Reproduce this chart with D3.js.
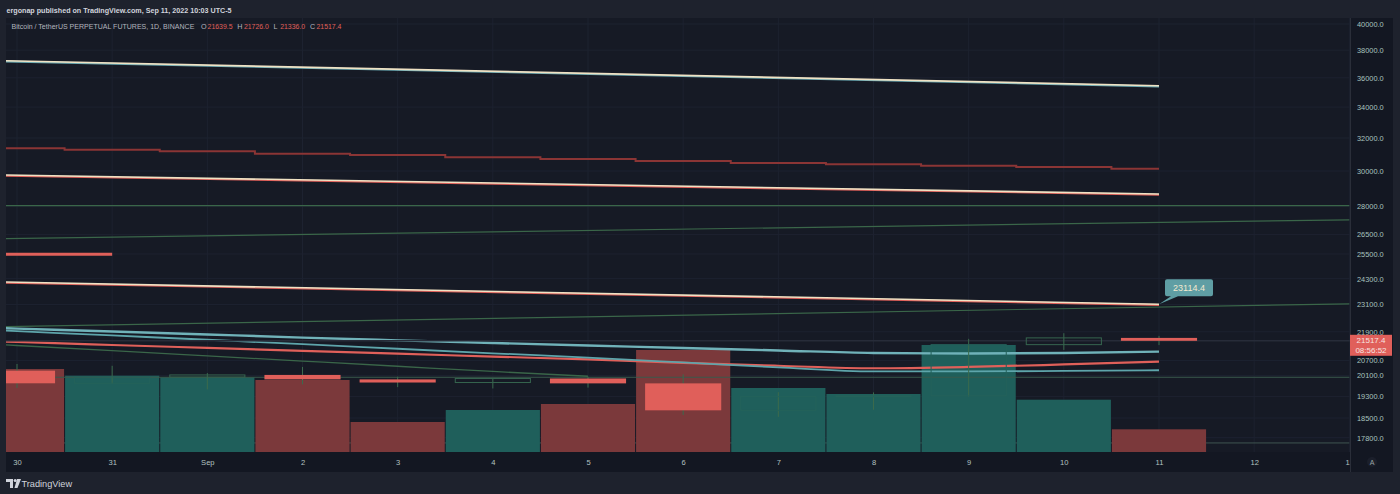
<!DOCTYPE html>
<html><head><meta charset="utf-8">
<script src="https://cdn.jsdelivr.net/npm/d3@7"></script>
<style>body{margin:0;background:#1e222d;overflow:hidden}svg{display:block}text{font-family:"Liberation Sans",Arial,sans-serif}</style>
</head><body><svg id="c" width="1400" height="494"></svg>
<script>
// ---- data ----
const dayLabels = ["30","31","Sep","2","3","4","5","6","7","8","9","10","11","12","13"];
const candleOpen  = [20296, 19800, 20043, 20127, 19952, 19830, 19988, 19797, 18780, 19290, 19320, 21356, 21639.5];
const candleHigh  = [20563, 20490, 20200, 20444, 20056, 20000, 20057, 20150, 19460, 19450, 21600, 21840, 21726.0];
const candleLow   = [19620, 19780, 19565, 19757, 19652, 19600, 19633, 18609, 18540, 18800, 19290, 21136, 21336.0];
const candleClose = [19800, 20045, 20127, 19952, 19830, 19988, 19797, 18780, 19290, 19320, 21356, 21640, 21517.4];
const volumeK     = [830, 763, 747, 720, 300, 420, 480, 1020, 640, 580, 1070, 523, 227];
const priceTicks  = [40000,38000,36000,34000,32000,30000,28000,26500,25500,24300,23100,21900,20700,20100,19300,18500,17800];
// moving averages, values for day index -1 .. 12
const maTealUpper = [22168, 22038, 21914, 21785, 21653, 21535, 21426, 21317, 21217, 21114, 21011, 20990, 21011, 21064];
const maTealLower = [22116, 21927, 21743, 21561, 21376, 21184, 20998, 20822, 20624, 20423, 20264, 20264, 20284, 20311];
const maRed       = [21594, 21468, 21342, 21221, 21101, 20982, 20863, 20745, 20604, 20491, 20391, 20443, 20543, 20656];
// day index -1 .. 6
const maGreen     = [21535, 21321, 21106, 20892, 20680, 20471, 20264, 20074];
// stepped dark red line, day index -1 .. 12
const stepRed     = [31420, 31365, 31277, 31180, 31033, 30953, 30815, 30713, 30593, 30474, 30396, 30314, 30238, 30135];
// straight lines: [startIndex, startValue, endIndex, endValue]
const lineTop        = [-1, 37360, 12, 35451];
const lineMid        = [-1, 29847, 12, 28680];
const lineLow        = [-1, 24217, 12, 23114.4];
const lineGreenUpper = [-1, 26217, 14, 27268];
const lineGreenLower = [-1, 22060, 14, 23130];
const lineGreenFlat  = [-1, 28033, 14, 28033];
const lineRedShort   = [-1, 25487, 1, 25487];
const lineFlat20k    = [-1, 20035, 14, 20035];
const lineFlat17k    = [-1, 17618, 14, 17618];
const lastPrice = 21517.4, lastTime = "08:56:52", calloutValue = 23114.4;
const headerText = "ergonap published on TradingView.com, Sep 11, 2022 10:03 UTC-5";
const legendTitle = "Bitcoin / TetherUS PERPETUAL FUTURES, 1D, BINANCE";
const ohlcKeys = ["O","H","L","C"];
const ohlcVals = ["21639.5","21726.0","21336.0","21517.4"];

// ---- layout ----
const svg = d3.select("#c");
const L = 6, R = 1350, T = 18, B = 452;
const x = d3.scaleLinear().domain([0, 12]).range([17, 1159]);
const y = d3.scaleLog().domain([17800, 40000]).range([437.7, 24]);
const vy = d3.scaleLinear().domain([0, 1070]).range([B, 345]);
const step = x(1) - x(0);

svg.append("rect").attr("width",1400).attr("height",494).attr("fill","#1e222d");
svg.append("rect").attr("x",L).attr("y",T).attr("width",R-L).attr("height",B-T).attr("fill","#161a25");
svg.append("rect").attr("x",L).attr("y",B).attr("width",1393-L).attr("height",20).attr("fill","#131722");
svg.append("rect").attr("x",R).attr("y",T).attr("width",43).attr("height",B-T).attr("fill","#131722");
svg.append("line").attr("x1",R+0.5).attr("x2",R+0.5).attr("y1",T).attr("y2",472).attr("stroke","#2a2e39");

const defs = svg.append("defs");
defs.append("clipPath").attr("id","plot").append("rect").attr("x",L).attr("y",T).attr("width",R-L).attr("height",B-T);
defs.append("clipPath").attr("id","xax").append("rect").attr("x",L).attr("y",B).attr("width",R-L).attr("height",20);

const plot = svg.append("g").attr("clip-path","url(#plot)");

// grid
plot.selectAll(".vg").data(d3.range(15)).join("line")
  .attr("x1",d=>x(d)).attr("x2",d=>x(d)).attr("y1",T).attr("y2",B)
  .attr("stroke","#1d2230").attr("stroke-width",1);
plot.selectAll(".hg").data(priceTicks).join("line")
  .attr("x1",L).attr("x2",R).attr("y1",d=>y(d)).attr("y2",d=>y(d))
  .attr("stroke","#1d2230").attr("stroke-width",1);

function seg(g, s, color, w, dy=0){
  g.append("line").attr("x1",x(s[0])).attr("y1",y(s[1])+dy).attr("x2",x(s[2])).attr("y2",y(s[3])+dy)
   .attr("stroke",color).attr("stroke-width",w);
}
seg(plot, lineFlat17k, "#3f5550", 1);

// volume
const vColor = i => candleClose[i] >= candleOpen[i] ? "#1f5f5b" : "#7b393b";
plot.selectAll(".vol").data(volumeK).join("rect")
  .attr("x",(d,i)=>x(i)-step/2+0.5).attr("width",step-1)
  .attr("y",d=>vy(d)).attr("height",d=>B-vy(d))
  .attr("fill",(d,i)=>vColor(i));

// indicator lines
const lineGen = (arr, start, curve) => d3.line().x((d,i)=>x(i+start)).y(d=>y(d)).curve(curve)(arr);
seg(plot, lineGreenFlat, "#3a6649", 1.3);
seg(plot, lineGreenUpper, "#3a6649", 1.2);
seg(plot, lineGreenLower, "#3a6649", 1.2);
seg(plot, lineFlat20k, "#3a5a4c", 1.2);
seg(plot, lineRedShort, "#e0605a", 3);
plot.append("path").attr("d", lineGen(stepRed,-1,d3.curveStep)).attr("fill","none").attr("stroke","#8b3535").attr("stroke-width",2);
seg(plot, lineTop, "#6aaab3", 1.8, 0.8);
seg(plot, lineTop, "#efe2c4", 1.6);
seg(plot, lineMid, "#e0605a", 1.8, 0.8);
seg(plot, lineMid, "#efe2c4", 1.6);
seg(plot, lineLow, "#e0605a", 1.8, 0.8);
seg(plot, lineLow, "#efe2c4", 1.6);
plot.append("path").attr("d", lineGen(maGreen,-1,d3.curveMonotoneX)).attr("fill","none").attr("stroke","#3a6649").attr("stroke-width",1.3);
plot.append("path").attr("d", lineGen(maRed,-1,d3.curveMonotoneX)).attr("fill","none").attr("stroke","#e0605a").attr("stroke-width",2.2);
plot.append("path").attr("d", lineGen(maTealLower,-1,d3.curveMonotoneX)).attr("fill","none").attr("stroke","#5ea5ab").attr("stroke-width",1.8);
plot.append("path").attr("d", lineGen(maTealUpper,-1,d3.curveMonotoneX)).attr("fill","none").attr("stroke","#70b2b9").attr("stroke-width",2.4);

// last price line
plot.append("line").attr("x1",L).attr("x2",R).attr("y1",y(lastPrice)).attr("y2",y(lastPrice)).attr("stroke","#272c39").attr("stroke-width",1.5);

// candles
const cw = step*0.8;
const cg = plot.append("g");
candleOpen.forEach((o,i)=>{
  const c = candleClose[i], up = c >= o;
  const top = y(Math.max(o,c)), bot = y(Math.min(o,c));
  const overVol = vy(volumeK[i]) < top + 2;
  cg.append("line").attr("x1",x(i)).attr("x2",x(i)).attr("y1",y(candleHigh[i])).attr("y2",y(candleLow[i]))
    .attr("stroke", "#3b6a4c").attr("stroke-width",1);
  if (up) {
    cg.append("rect").attr("x",x(i)-cw/2+0.5).attr("y",top).attr("width",cw-1).attr("height",Math.max(1,bot-top))
      .attr("fill","none").attr("stroke", overVol ? "#24625a" : "#36654f").attr("stroke-width",1);
  } else {
    cg.append("rect").attr("x",x(i)-cw/2).attr("y",top).attr("width",cw).attr("height",Math.max(1.5,bot-top))
      .attr("fill","#e05f5a");
  }
});

// callout
const cx = x(12), cyy = y(calloutValue);
const bx = cx+6, by = cyy-25, bw = 48, bh = 17;
svg.append("path").attr("d",`M${bx+2},${by} H${bx+bw-2} Q${bx+bw},${by} ${bx+bw},${by+2} V${by+bh-2} Q${bx+bw},${by+bh} ${bx+bw-2},${by+bh} H${bx+13} L${cx},${cyy} L${bx+6},${by+bh} H${bx+2} Q${bx},${by+bh} ${bx},${by+bh-2} V${by+2} Q${bx},${by} ${bx+2},${by} Z`)
  .attr("fill","#5f9ea4");
svg.append("text").attr("x",bx+bw/2).attr("y",by+bh/2+3.2).attr("text-anchor","middle")
  .attr("font-size",9).attr("fill","#f3e9cf").text(d3.format(".1f")(calloutValue));

// y axis
const ya = svg.append("g").attr("transform",`translate(${R+4},0)`)
  .call(d3.axisRight(y).tickValues(priceTicks).tickFormat(d3.format(".1f")).tickSize(0).tickPadding(3));
ya.select(".domain").remove();
ya.selectAll("text").attr("font-size",7.4).attr("fill","#a9c3bf").attr("font-family","Liberation Sans, Arial, sans-serif");

// last price badge
const lpY = y(lastPrice);
svg.append("rect").attr("x",R).attr("y",lpY-6).attr("width",42).attr("height",21).attr("fill","#e05f5a");
svg.append("text").attr("x",R+21).attr("y",lpY+2.5).attr("text-anchor","middle").attr("font-size",8).attr("fill","#f7e3e0").text(d3.format(".1f")(lastPrice));
svg.append("text").attr("x",R+21).attr("y",lpY+12).attr("text-anchor","middle").attr("font-size",8).attr("fill","#f7e3e0").text(lastTime);

// x axis
const xa = svg.append("g").attr("clip-path","url(#xax)").append("g").attr("transform",`translate(0,${B})`)
  .call(d3.axisBottom(x).tickValues(d3.range(15)).tickFormat(i=>dayLabels[i]).tickSize(0).tickPadding(8));
xa.select(".domain").remove();
xa.selectAll("text").attr("font-size",7.6).attr("fill","#b2c2c0").attr("font-family","Liberation Sans, Arial, sans-serif");

// auto button
svg.append("circle").attr("cx",1372).attr("cy",462).attr("r",5).attr("fill","#1b1f2b");
svg.append("text").attr("x",1372).attr("y",464.5).attr("text-anchor","middle").attr("font-size",7).attr("fill","#9aa5a5").text("A");

// text fitted to a target width by scaling its font size
function fitText(xp, yp, str, width, baseSize, fill, bold){
  const t = svg.append("text").attr("x",xp).attr("y",yp).attr("font-size",baseSize).attr("fill",fill).text(str);
  if (bold) t.attr("font-weight","bold");
  const w = t.node().getComputedTextLength();
  if (w > 0) t.attr("font-size", (baseSize*width/w).toFixed(2));
  return t;
}
fitText(6.5, 12.5, headerText, 225, 8.4, "#d1d4dc", true);
fitText(11.5, 29, legendTitle, 183, 8, "#b2b5be", false);
ohlcKeys.forEach((k,i)=>{
  const x0 = 201 + i*36.3;
  svg.append("text").attr("x",x0).attr("y",29).attr("font-size",7.2).attr("fill","#b2b5be").text(k);
  fitText(x0+6.6, 29, ohlcVals[i], 25, 7.6, "#e0605a", false);
});

// footer logo
const lg = svg.append("g").attr("fill","#d1d4dc");
lg.append("path").attr("d","M6,479 H13 V488 H10 V482 H6 Z");
lg.append("circle").attr("cx",15.2).attr("cy",480.5).attr("r",1.5);
lg.append("path").attr("d","M17,479 H21 L17.5,488 H14.5 Z");
svg.append("text").attr("x",21.5).attr("y",487).attr("font-size",9.2).attr("fill","#d1d4dc").text("TradingView");
</script></body></html>
